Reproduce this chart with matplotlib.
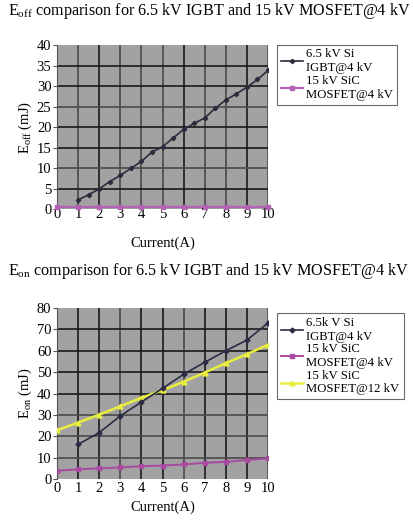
import matplotlib
matplotlib.use("Agg")
import matplotlib.pyplot as plt
import numpy as np

plt.rcParams['font.family'] = ['Liberation Serif', 'DejaVu Serif']
plt.rcParams['mathtext.fontset'] = 'custom'
plt.rcParams['mathtext.rm'] = 'Liberation Serif'
plt.rcParams['mathtext.it'] = 'Liberation Serif'

# turn-off energy, 4 kV
eoff_igbt_i = [1, 1.5, 2, 2.5, 3, 3.5, 4, 4.5, 5, 5.5, 6, 6.5, 7, 7.5, 8, 8.5, 9, 9.5, 10]
eoff_igbt = [2.3, 3.6, 5.0, 6.8, 8.3, 10.0, 11.7, 14.0, 15.3, 17.4, 19.5, 21.0,
             22.3, 24.7, 26.7, 28.2, 29.8, 31.7, 33.9]
eoff_sic_i = [0, 1, 2, 3, 4, 5, 6, 7, 8, 9, 10]
eoff_sic = [0.7, 0.7, 0.7, 0.7, 0.7, 0.7, 0.7, 0.7, 0.7, 0.7, 0.7]

# turn-on energy
eon_igbt_i = [1, 2, 3, 4, 5, 6, 7, 8, 9, 10]
eon_igbt = [16.2, 21.7, 29.5, 36.0, 42.4, 49.0, 54.6, 60.0, 65.0, 73.0]
eon_sic_i = [0, 1, 2, 3, 4, 5, 6, 7, 8, 9, 10]
eon_sic4 = [3.9, 4.5, 5.0, 5.4, 6.0, 6.3, 6.8, 7.6, 8.0, 8.9, 9.6]
eon_sic12 = [22.8, 26.4, 30.1, 34.0, 38.0, 41.5, 45.5, 49.8, 54.2, 58.4, 62.8]

xticks = list(range(0, 11))
eoff_yticks = [0, 5, 10, 15, 20, 25, 30, 35, 40]
eon_yticks = [0, 10, 20, 30, 40, 50, 60, 70, 80]

BG = '#a2a2a2'
DARK = '#1a1a1a'
MID = '#4a4a4a'


def style_axes(ax, yticks, dark_x, dark_y):
    ax.set_facecolor(BG)
    ax.set_xlim(0, 10)
    ax.set_ylim(yticks[0], yticks[-1])
    ax.set_xticks(xticks)
    ax.set_yticks(yticks)
    for x in xticks[1:]:
        ax.axvline(x, color=DARK if x in dark_x else MID, lw=1.2, zorder=1)
    for y in yticks[1:-1]:
        ax.axhline(y, color=DARK if y in dark_y else MID, lw=1.2, zorder=1)
    for s in ['top', 'right', 'bottom']:
        ax.spines[s].set_visible(False)
    ax.spines['left'].set_color('#555555')
    ax.tick_params(axis='x', length=0, labelsize=10.5, pad=2)
    ax.tick_params(axis='y', length=3, labelsize=10.5, pad=1, color='#555555')
    ax.set_xlabel('Current(A)', fontsize=10.5, labelpad=4)


def add_legend(ax, top):
    leg = ax.legend(loc='upper left', bbox_to_anchor=(1.043, top), fontsize=9.2,
                    frameon=True, fancybox=False, edgecolor='#444444',
                    handlelength=1.7, handletextpad=0.3, borderpad=0.3,
                    labelspacing=0.05, borderaxespad=0)
    leg.get_frame().set_linewidth(0.8)
    return leg


fig = plt.figure(figsize=(4.14, 5.21), dpi=100)

ax1 = fig.add_axes([0.1377, 0.598, 0.5097, 0.3148])
style_axes(ax1, eoff_yticks, [2, 6, 9], [5, 15, 20, 30, 35])
ax1.plot(eoff_igbt_i, eoff_igbt, color='#2b2b3d', lw=1.2, marker='D', ms=2.2,
         label='6.5 kV Si\nIGBT@4 kV', zorder=3)
ax1.plot(eoff_sic_i, eoff_sic, color='#b463b4', lw=1.6, marker='s', ms=3.5,
         label='15 kV SiC\nMOSFET@4 kV', zorder=3, clip_on=False)
ax1.set_ylabel('E$_{\\rm off}$ (mJ)', fontsize=10.5, labelpad=2)
ax1.tick_params(axis='x', pad=-1)
ax1.xaxis.labelpad = 11
fig.text(0.02, 0.978, 'E$_{\\rm off}$ comparison for 6.5 kV IGBT and 15 kV MOSFET@4 kV',
         fontsize=11.6, va='center', ha='left')
add_legend(ax1, 1.005)

ax2 = fig.add_axes([0.1377, 0.0806, 0.5097, 0.3282])
style_axes(ax2, eon_yticks, [1, 2, 4, 5, 7, 8, 9], [40, 50, 60, 70])
ax2.plot(eon_igbt_i, eon_igbt, color='#2b2b45', lw=1.2, marker='D', ms=2.5,
         label='6.5k V Si\nIGBT@4 kV', zorder=4)
ax2.plot(eon_sic_i, eon_sic4, color='#a84aa0', lw=1.4, marker='s', ms=3.5,
         label='15 kV SiC\nMOSFET@4 kV', zorder=3)
ax2.plot(eon_sic_i, eon_sic12, color='#e9ee3e', lw=1.8, marker='^', ms=3.5,
         label='15 kV SiC\nMOSFET@12 kV', zorder=3)
ax2.set_ylabel('E$_{\\rm on}$ (mJ)', fontsize=10.5, labelpad=2)
fig.text(0.02, 0.48, 'E$_{\\rm on}$ comparison for 6.5 kV IGBT and 15 kV MOSFET@4 kV',
         fontsize=11.6, va='center', ha='left')
add_legend(ax2, 0.971)

fig.savefig('out.png', dpi=100)
